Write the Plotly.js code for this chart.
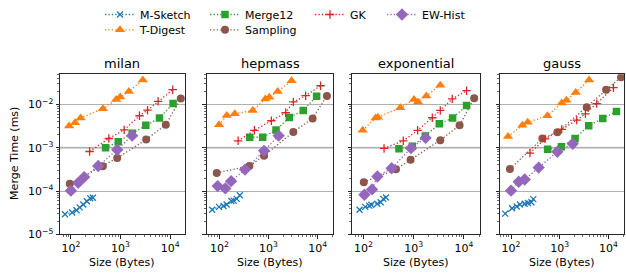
<!DOCTYPE html>
<html>
<head>
<meta charset="utf-8">
<script src="https://cdn.plot.ly/plotly-3.0.1.min.js"></script>
<style>html,body{margin:0;padding:0;background:#fff}#chart{width:626px;height:274px}</style>
</head>
<body>
<div id="chart"></div>
<script>
// ---- data ----
const datasets = ['milan', 'hepmass', 'exponential', 'gauss'];
const seriesNames = ['M-Sketch', 'T-Digest', 'Merge12', 'Sampling', 'GK', 'EW-Hist'];

// sizes in bytes, merge times in ms; one sub-list per dataset (milan, hepmass, exponential, gauss)
const msketchSize = [
  [76, 106, 130, 150, 178, 210, 245, 278],
  [71, 98, 121, 140, 175, 195, 225, 260],
  [84, 109, 131, 144, 189, 221, 249, 282],
  [76, 105, 131, 153, 191, 223, 261, 287]
];
const msketchTime = [
  [2.9e-5, 3.2e-5, 3.6e-5, 4.2e-5, 4.9e-5, 5.8e-5, 6.8e-5, 7.0e-5],
  [3.7e-5, 4.3e-5, 4.5e-5, 4.9e-5, 5.9e-5, 6.0e-5, 6.6e-5, 8.0e-5],
  [3.7e-5, 4.3e-5, 4.6e-5, 4.8e-5, 5.1e-5, 5.5e-5, 6.6e-5, 7.1e-5],
  [3.0e-5, 4.0e-5, 4.4e-5, 4.9e-5, 5.1e-5, 5.3e-5, 5.5e-5, 6.5e-5]
];
const tdigestSize = [
  [92, 121, 157, 440, 818, 984, 1472, 2817],
  [98, 141, 205, 476, 862, 1040, 1535, 2960],
  [97, 175, 195, 543, 1016, 1220, 1787, 3390],
  [87, 171, 220, 558, 1100, 1371, 2133, 4010]
];
const tdigestTime = [
  [3.2e-3, 3.8e-3, 4.9e-3, 8.0e-3, 1.3e-2, 1.5e-2, 2.0e-2, 3.7e-2],
  [3.4e-3, 5.6e-3, 6.1e-3, 7.3e-3, 1.35e-2, 1.47e-2, 2.0e-2, 3.56e-2],
  [2.54e-3, 4.9e-3, 5.1e-3, 8.4e-3, 1.3e-2, 1.15e-2, 1.58e-2, 2.8e-2],
  [1.82e-3, 3.3e-3, 3.87e-3, 5.5e-3, 1.09e-2, 1.26e-2, 1.91e-2, 3.67e-2]
];
const merge12Size = [
  [499, 898, 1718, 3236, 6100, 11480],
  [414, 760, 1422, 2655, 5100, 9550],
  [511, 942, 1706, 3240, 5960, 11300],
  [566, 1082, 2065, 3945, 7650, 14600]
];
const merge12Time = [
  [1.0e-3, 1.37e-3, 2.17e-3, 3.3e-3, 4.87e-3, 1.05e-2],
  [1.75e-3, 1.75e-3, 2.58e-3, 5.0e-3, 7.3e-3, 1.55e-2],
  [9.5e-4, 1.09e-3, 1.88e-3, 3.6e-3, 4.87e-3, 9.5e-3],
  [9.2e-4, 1.05e-3, 1.64e-3, 3.25e-3, 4.78e-3, 6.9e-3]
];
const samplingSize = [
  [95, 440, 857, 3290, 8180, 16400],
  [88, 407, 810, 3200, 7910, 15500],
  [102, 445, 871, 3390, 8200, 16000],
  [95, 440, 895, 3590, 8950, 18200]
];
const samplingTime = [
  [1.47e-4, 3.74e-4, 5.8e-4, 1.55e-3, 3.42e-3, 1.37e-2],
  [2.63e-4, 3.8e-4, 6.56e-4, 2.32e-3, 4.78e-3, 1.58e-2],
  [1.6e-4, 3.19e-4, 5.3e-4, 1.5e-3, 3.3e-3, 1.4e-2],
  [3.24e-4, 1.64e-3, 2.29e-3, 8.7e-3, 2.2e-2, 4.3e-2]
];
const gkSize = [
  [238, 582, 1185, 2414, 3500, 5730, 11300],
  [240, 515, 1143, 2235, 3200, 5700, 11500],
  [258, 623, 1200, 2350, 3390, 5860, 11300],
  [245, 500, 1100, 2235, 3370, 5750, 12700]
];
const gkTime = [
  [8.2e-4, 1.64e-3, 2.6e-3, 5.5e-3, 7.4e-3, 1.18e-2, 2.2e-2],
  [1.45e-3, 2.54e-3, 4.22e-3, 6.45e-3, 1.15e-2, 1.6e-2, 2.72e-2],
  [9.66e-4, 1.45e-3, 2.54e-3, 4.95e-3, 7.3e-3, 1.35e-2, 2.09e-2],
  [7.55e-4, 1.61e-3, 2.67e-3, 4.37e-3, 6.1e-3, 1.05e-2, 2.45e-2]
];
const ewhistSize = [
  [100, 140, 185, 355, 857, 1718],
  [92, 132, 173, 332, 810, 1610],
  [105, 149, 190, 365, 885, 1730],
  [100, 144, 191, 370, 895, 1850]
];
const ewhistTime = [
  [1.02e-4, 1.55e-4, 2.1e-4, 3.8e-4, 9.0e-4, 1.91e-3],
  [1.3e-4, 1.15e-4, 1.69e-4, 3.13e-4, 8.5e-4, 1.91e-3],
  [8.2e-5, 1.09e-4, 2.17e-4, 3.37e-4, 9.8e-4, 1.69e-3],
  [1.02e-4, 1.64e-4, 1.85e-4, 3.48e-4, 8.1e-4, 1.24e-3]
];
const xTickVals = [100, 1000, 10000];
const xTickText = ['10<sup>2</sup>', '10<sup>3</sup>', '10<sup>4</sup>'];
const yTickVals = [1e-5, 1e-4, 1e-3, 1e-2];
const yTickText = ['10<sup>−5</sup>', '10<sup>−4</sup>', '10<sup>−3</sup>', '10<sup>−2</sup>'];

// ---- styling ----
const W = 626, H = 274;
const FONT = 'DejaVu Sans, Liberation Sans, sans-serif';
const sizes = [msketchSize, tdigestSize, merge12Size, samplingSize, gkSize, ewhistSize];
const times = [msketchTime, tdigestTime, merge12Time, samplingTime, gkTime, ewhistTime];
const styles = [
  {color: '#1f77b4', symbol: 'x-thin', size: 6, thin: true},
  {color: '#ff7f0e', symbol: 'triangle-up', size: 9},
  {color: '#2ca02c', symbol: 'square', size: 7.5},
  {color: '#8c564b', symbol: 'circle', size: 8},
  {color: '#d62728', symbol: 'cross-thin', size: 6, thin: true},
  {color: '#9467bd', symbol: 'diamond', size: 9.5}
];
const legendIds = ['legend', 'legend2', 'legend3', 'legend4', 'legend5', 'legend6'];
const legendPos = [[120, 12.2], [120, 28], [225, 12.2], [225, 28], [330, 12.2], [402, 12.2]];

const panelPx = [[60, 185], [206.7, 333.3], [352.3, 480], [500, 624]];
const xRanges = [[1.78, 4.30], [1.74, 4.32], [1.78, 4.32], [1.774, 4.32]];
const yTop = 72.7, yBot = 234;
const yDomain = [1 - yBot / H, 1 - yTop / H];

const minorX = [], minorY = [];
for (let e = 1; e <= 4; e++) for (let m = 2; m <= 9; m++) minorX.push(m * Math.pow(10, e));
for (let e = -5; e <= -2; e++) for (let m = 2; m <= 9; m++) minorY.push(m * Math.pow(10, e));

const traces = [];
datasets.forEach((ds, p) => {
  const sfx = p === 0 ? '' : String(p + 1);
  seriesNames.forEach((name, s) => {
    const st = styles[s];
    const marker = {color: st.color, symbol: st.symbol, size: st.size};
    if (st.thin) marker.line = {color: st.color, width: 1.3};
    else marker.line = {width: 0};
    traces.push({
      type: 'scatter', mode: 'lines+markers', name: name,
      x: sizes[s][p], y: times[s][p],
      xaxis: 'x' + sfx, yaxis: 'y' + sfx,
      line: {color: st.color, width: 1.3, dash: '1.3px,2.1px'},
      marker: marker,
      showlegend: p === 0,
      legend: legendIds[s],
      hoverinfo: 'skip'
    });
  });
});

const layout = {
  width: W, height: H,
  margin: {l: 0, r: 0, t: 0, b: 0},
  paper_bgcolor: '#fff', plot_bgcolor: '#fff',
  font: {family: FONT, size: 11, color: '#000'},
  annotations: [],
  shapes: []
};

datasets.forEach((ds, p) => {
  const sfx = p === 0 ? '' : String(p + 1);
  const [x0, x1] = panelPx[p];
  layout['xaxis' + sfx] = {
    type: 'log', range: xRanges[p], domain: [x0 / W, x1 / W], anchor: 'y' + sfx,
    showline: true, linecolor: '#262626', linewidth: 1, mirror: true,
    showgrid: false, zeroline: false,
    tickmode: 'array', tickvals: xTickVals, ticktext: xTickText,
    ticks: 'outside', ticklen: 3.5, tickwidth: 1, tickcolor: '#262626',
    tickfont: {family: FONT, size: 11, color: '#000'},
    minor: {tickmode: 'array', tickvals: minorX, ticks: 'outside', ticklen: 2, tickwidth: 0.7, tickcolor: '#262626', showgrid: false}
  };
  layout['yaxis' + sfx] = {
    type: 'log', range: [-5, -1.298], domain: yDomain, anchor: 'x' + sfx,
    showline: true, linecolor: '#262626', linewidth: 1, mirror: true,
    showgrid: true, gridcolor: '#b0b0b0', gridwidth: 1, zeroline: false,
    tickmode: 'array', tickvals: yTickVals, ticktext: yTickText,
    showticklabels: p === 0,
    ticks: 'outside', ticklen: 3.5, tickwidth: 1, tickcolor: '#262626',
    tickfont: {family: FONT, size: 11, color: '#000'},
    minor: {tickmode: 'array', tickvals: minorY, ticks: 'outside', ticklen: 2, tickwidth: 0.7, tickcolor: '#262626', showgrid: false}
  };
  // the 10^-3 grid line renders as a softer, wider band in the reference
  layout.shapes.push({
    type: 'line', layer: 'below', xref: 'x' + sfx + ' domain', yref: 'y' + sfx,
    x0: 0, x1: 1, y0: yTickVals[2], y1: yTickVals[2],
    line: {color: '#d4d4d4', width: 2.2}
  });
  layout.annotations.push({
    text: ds, xref: 'paper', yref: 'paper', x: (x0 + x1) / 2 / W, y: 1 - 61.7 / H,
    xanchor: 'center', yanchor: 'middle', showarrow: false,
    font: {family: FONT, size: 13, color: '#000'}
  });
  layout.annotations.push({
    text: 'Size (Bytes)', xref: 'paper', yref: 'paper', x: (x0 + x1) / 2 / W, y: 1 - 262 / H,
    xanchor: 'center', yanchor: 'middle', showarrow: false,
    font: {family: FONT, size: 11, color: '#000'}
  });
});
layout.annotations.push({
  text: 'Merge Time (ms)', xref: 'paper', yref: 'paper', x: 15 / W, y: 1 - 153 / H,
  xanchor: 'center', yanchor: 'middle', textangle: -90, showarrow: false,
  font: {family: FONT, size: 11, color: '#000'}
});

legendIds.forEach((id, i) => {
  const [cx, cy] = legendPos[i];
  layout[id] = {
    x: (cx - 20) / W, y: 1 - cy / H, xanchor: 'left', yanchor: 'middle',
    xref: 'paper', yref: 'paper',
    bgcolor: 'rgba(0,0,0,0)', borderwidth: 0,
    font: {family: FONT, size: 11, color: '#000'},
    itemclick: false, itemdoubleclick: false
  };
});

Plotly.newPlot('chart', traces, layout, {displayModeBar: false, staticPlot: true});
</script>
</body>
</html>
